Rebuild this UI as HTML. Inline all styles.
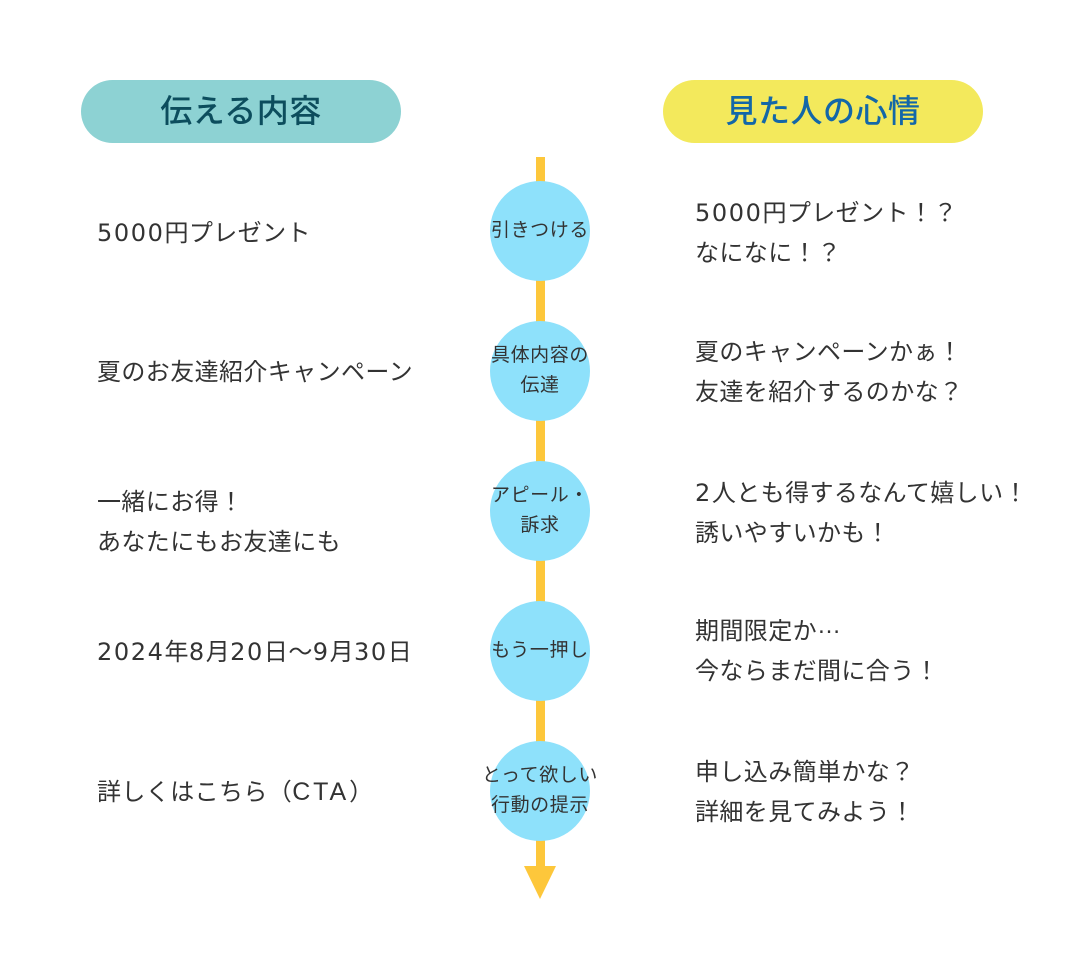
<!DOCTYPE html>
<html lang="ja">
<head>
<meta charset="utf-8">
<style>
  html, body { margin:0; padding:0; background:#ffffff; }
  body { width:1080px; height:960px; position:relative; overflow:hidden;
    font-family:"Liberation Sans","Noto Sans CJK JP",sans-serif; color:#333333; }
  .pill { position:absolute; top:80px; width:320px; height:63px; border-radius:32px;
    text-align:center; line-height:63px; font-size:32px; letter-spacing:0.5px; font-weight:500; }
  .pl { left:81px; background:#8dd2d3; color:#0c4d5d; }
  .pr { left:663px; background:#f3e95c; color:#1367a8; }
  .line { position:absolute; left:536px; top:157px; width:9px; height:712px; background:#fdc73b; }
  .arrow { position:absolute; left:524px; top:866px; width:0; height:0;
    border-left:16.5px solid transparent; border-right:16.5px solid transparent; border-top:33px solid #fdc73b; }
  .c { position:absolute; left:490px; width:100px; height:100px; border-radius:50%; background:#8ee1fb; }
  .ct { position:absolute; left:470px; width:140px; text-align:center; font-size:19px;
    letter-spacing:0.6px; line-height:30px; color:#333; white-space:nowrap; }
  .t { position:absolute; font-size:24px; line-height:40px; letter-spacing:0.4px; white-space:nowrap; color:#333; }
  .n { font-family:"DejaVu Sans",sans-serif; font-size:24px; letter-spacing:1.6px; }
  .m { font-size:25px; letter-spacing:2.9px; }
  .e { position:relative; top:-6px; }
  .l { left:97px; }
  .r { left:695px; }
</style>
</head>
<body>
  <div class="pill pl">伝える内容</div>
  <div class="pill pr">見た人の心情</div>

  <div class="line"></div>
  <div class="arrow"></div>

  <div class="c" style="top:181px"></div>
  <div class="c" style="top:321px"></div>
  <div class="c" style="top:461px"></div>
  <div class="c" style="top:601px"></div>
  <div class="c" style="top:741px"></div>

  <div class="ct" style="top:216px">引きつける</div>
  <div class="ct" style="top:341px">具体内容の<br>伝達</div>
  <div class="ct" style="top:481px">アピール・<br>訴求</div>
  <div class="ct" style="top:636px">もう一押し</div>
  <div class="ct" style="top:761px">とって欲しい<br>行動の提示</div>

  <div class="t l" style="top:213px"><span class="n">5000</span>円プレゼント</div>
  <div class="t l" style="top:353px">夏のお友達紹介キャンペーン</div>
  <div class="t l" style="top:483px">一緒にお得！<br>あなたにもお友達にも</div>
  <div class="t l" style="top:632px"><span class="n">2024</span>年<span class="n">8</span>月<span class="n">20</span>日〜<span class="n">9</span>月<span class="n">30</span>日</div>
  <div class="t l" style="top:772px">詳しくはこちら（<span class="m">CTA</span>）</div>

  <div class="t r" style="top:193px"><span class="n">5000</span>円プレゼント！？<br>なになに！？</div>
  <div class="t r" style="top:333px">夏のキャンペーンかぁ！<br>友達を紹介するのかな？</div>
  <div class="t r" style="top:473px"><span class="n">2</span>人とも得するなんて嬉しい！<br>誘いやすいかも！</div>
  <div class="t r" style="top:612px">期間限定か<span class="e">…</span><br>今ならまだ間に合う！</div>
  <div class="t r" style="top:753px">申し込み簡単かな？<br>詳細を見てみよう！</div>
</body>
</html>
